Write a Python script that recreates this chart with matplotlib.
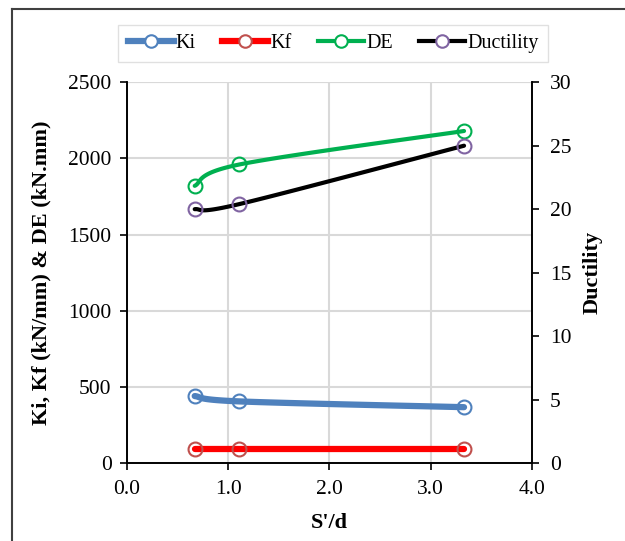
import numpy as np
import matplotlib.pyplot as plt
from matplotlib.lines import Line2D

plt.rcParams['font.family'] = ['Liberation Serif', 'DejaVu Serif']

# data
s_d = [0.67, 1.11, 3.33]
ki = [440, 405, 367]
kf = [90, 90, 90]
de = [1820, 1960, 2180]
ductility = [20.0, 20.4, 25.0]


def smooth(xs, ys, xr, yr, n=40):
    # excel-like smoothed line (bezier with 1/6 tangents), done in normalised space
    p = np.column_stack([np.asarray(xs) / xr, np.asarray(ys) / yr])
    pts = []
    for i in range(len(p) - 1):
        p0 = p[i - 1] if i > 0 else p[i]
        p3 = p[i + 2] if i + 2 < len(p) else p[i + 1]
        c1 = p[i] + (p[i + 1] - p0) / 6
        c2 = p[i + 1] - (p3 - p[i]) / 6
        t = np.linspace(0, 1, n)[:, None]
        seg = ((1 - t) ** 3 * p[i] + 3 * (1 - t) ** 2 * t * c1
               + 3 * (1 - t) * t ** 2 * c2 + t ** 3 * p[i + 1])
        pts.append(seg)
    pts = np.vstack(pts)
    return pts[:, 0] * xr, pts[:, 1] * yr


fig = plt.figure(figsize=(6.25, 5.41), dpi=100)
ax = fig.add_axes([0.203, 0.144, 0.648, 0.704])
ax2 = ax.twinx()

grid_c = '#d9d9d9'
series = [
    (ax, ki, '#4f81bd', '#4f81bd', 4.5, 'Ki', 2500),
    (ax, kf, '#ff0000', '#c0504d', 4.5, 'Kf', 2500),
    (ax, de, '#00b050', '#00b050', 3, 'DE', 2500),
    (ax2, ductility, '#000000', '#8064a2', 3, 'Ductility', 30),
]
handles = []
for a, ys, lc, mc, lw, name, yr in series:
    sx, sy = smooth(s_d, ys, 4, yr)
    a.plot(sx, sy, color=lc, lw=lw, solid_capstyle='round', zorder=3)
    a.plot(s_d, ys, ls='none', marker='o', ms=10, mfc='none', mec=mc, mew=1.5, zorder=4)
    handles.append(Line2D([], [], color=lc, lw=lw, marker='o', ms=9, mfc='white',
                          mec=mc, mew=1.5, label=name))

ax.set_xlim(0, 4)
ax.set_ylim(0, 2500)
ax2.set_ylim(0, 30)
ax.set_xticks(np.arange(0, 4.01, 1.0))
ax.set_xticklabels([f'{v:.1f}' for v in np.arange(0, 4.01, 1.0)])
ax.set_yticks(range(0, 2501, 500))
ax2.set_yticks(range(0, 31, 5))
ax.grid(True, color=grid_c, lw=1.5)
ax.set_axisbelow(True)

for a in (ax, ax2):
    a.spines['top'].set_visible(False)
    a.tick_params(direction='out', length=5, width=1.2, labelsize=15.5, colors='black')
    for s in ('left', 'bottom', 'right'):
        a.spines[s].set_linewidth(1.2)
ax.tick_params(axis='x', pad=7)
ax.tick_params(axis='y', pad=6)
ax2.tick_params(axis='y', pad=8)
ax.axhline(2500, color=grid_c, lw=1.5, zorder=0)

ax.set_xlabel("S'/d", fontsize=16, fontweight='bold', labelpad=10)
ax.set_ylabel('Ki, Kf (kN/mm) & DE (kN.mm)', fontsize=16, fontweight='bold', labelpad=12)
ax2.set_ylabel('Ductility', fontsize=16, fontweight='bold', labelpad=8)

fig.legend(handles=handles, loc='center', bbox_to_anchor=(0.533, 0.919), ncol=4,
           fontsize=14.5, frameon=True, fancybox=False, edgecolor=grid_c,
           handlelength=2.3, handletextpad=0.1, columnspacing=1.3, borderpad=0.45)

# frame lines at the top and left edge
fig.add_artist(Line2D([0.0195, 1.0], [0.983, 0.983], transform=fig.transFigure,
                      color='#404040', lw=1.5))
fig.add_artist(Line2D([0.0195, 0.0195], [0.0, 0.983], transform=fig.transFigure,
                      color='#404040', lw=1.5))

fig.savefig('out.png', dpi=100)
